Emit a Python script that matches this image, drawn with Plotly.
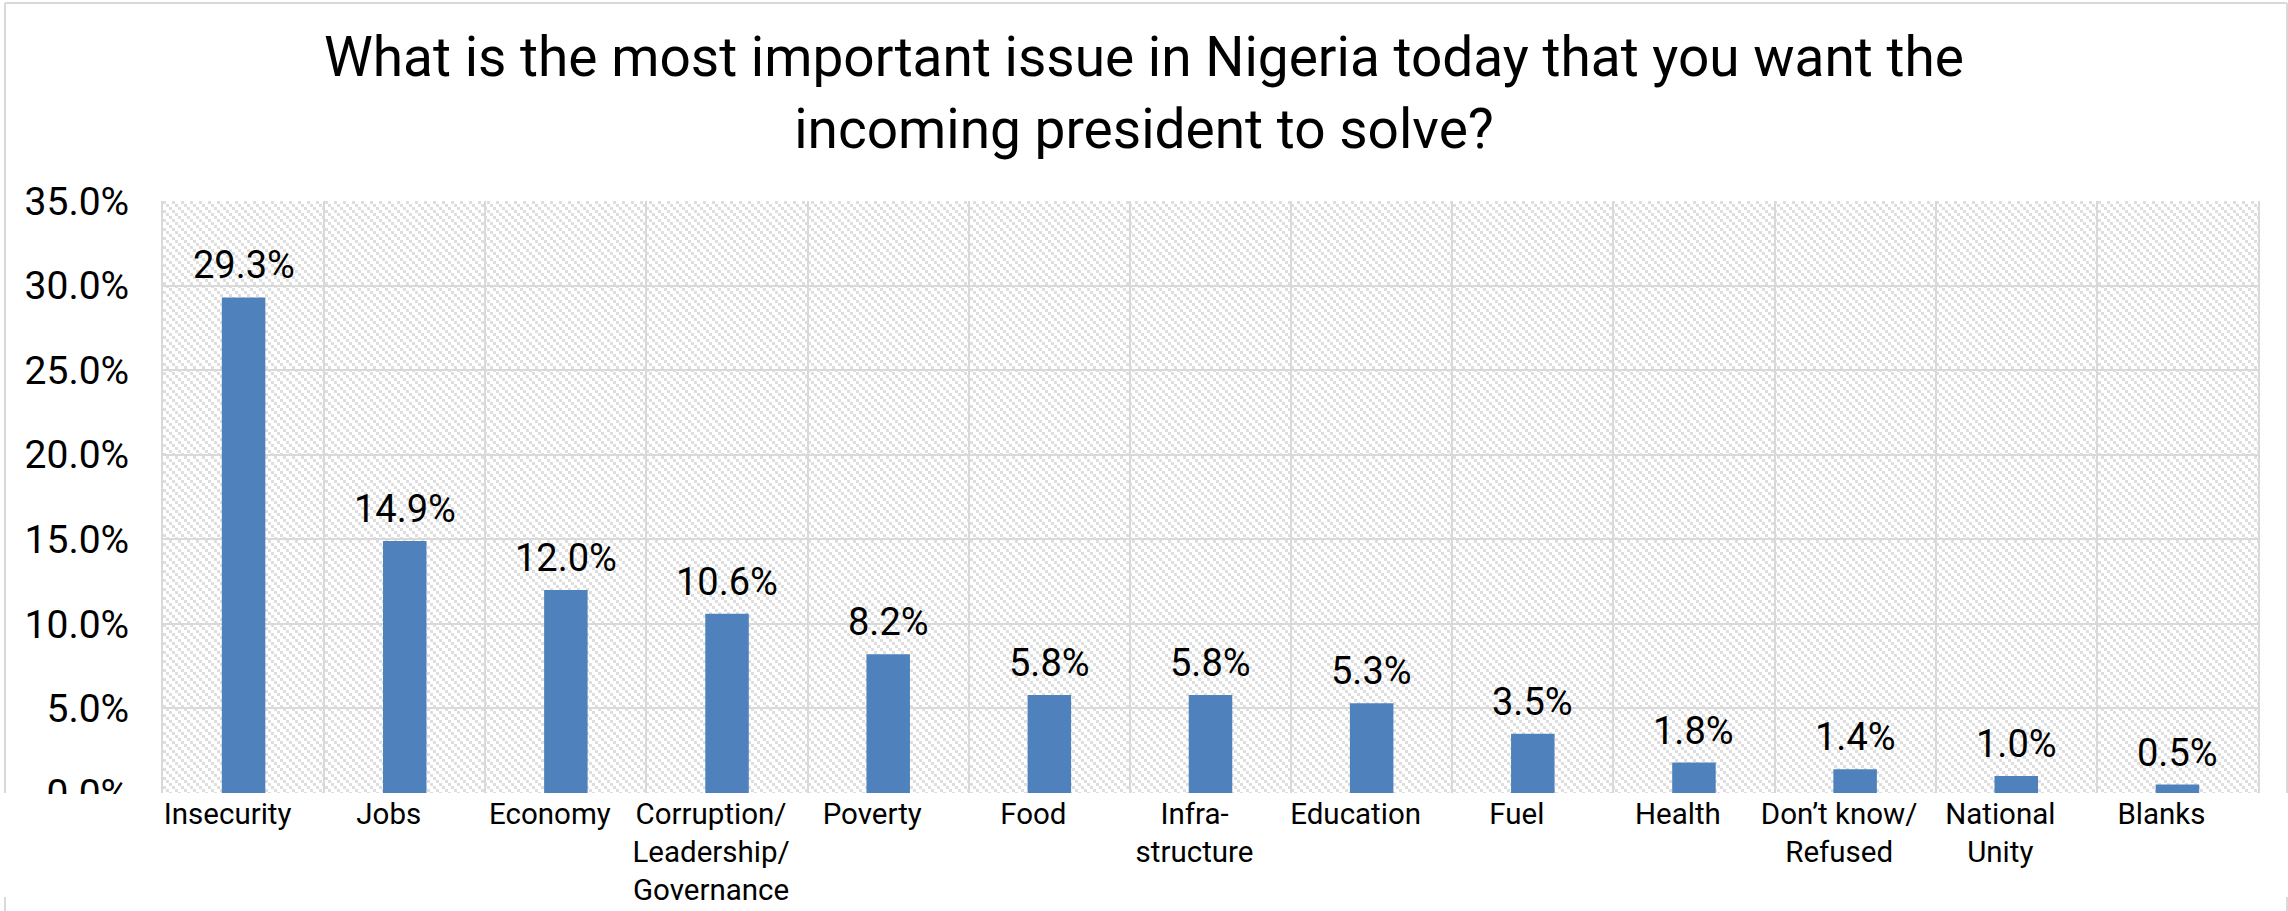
import base64
import plotly.graph_objects as go

# Survey responses: most important issue for the incoming president
categories = [
    "Insecurity", "Jobs", "Economy", "Corruption/<br>Leadership/<br>Governance",
    "Poverty", "Food", "Infra-<br>structure", "Education", "Fuel", "Health",
    "Don’t know/<br>Refused", "National<br>Unity", "Blanks",
]
shares = [29.3, 14.9, 12.0, 10.6, 8.2, 5.8, 5.8, 5.3, 3.5, 1.8, 1.4, 1.0, 0.5]
y_ticks = [0, 5, 10, 15, 20, 25, 30, 35]

TITLE = ("What is the most important issue in Nigeria today that you want the<br>"
         "incoming president to solve?")

FIG_W, FIG_H = 2288, 911
M_L, M_R, M_T, M_B = 163, 30, 201, 118
PLOT_W = FIG_W - M_L - M_R
PLOT_H = FIG_H - M_T - M_B
GRID = "#d9d9d9"
FONT = "Roboto"


def px_x(v):
    return (v - M_L) / PLOT_W


def px_y(v):
    return (FIG_H - M_B - v) / PLOT_H


# Dotted downward-diagonal hatch used as the plot-area fill
hatch_svg = (
    f'<svg xmlns="http://www.w3.org/2000/svg" width="{PLOT_W}" height="{PLOT_H}" '
    f'shape-rendering="crispEdges" preserveAspectRatio="none">'
    '<defs><pattern id="h" width="9" height="9" patternUnits="userSpaceOnUse">'
    '<rect x="0" y="0" width="3" height="3" fill="#dedede"/>'
    '<rect x="3" y="3" width="3" height="3" fill="#dedede"/>'
    '<rect x="6" y="6" width="3" height="3" fill="#dedede"/>'
    '</pattern></defs>'
    f'<rect width="{PLOT_W}" height="{PLOT_H}" fill="url(#h)"/></svg>'
)
hatch_uri = "data:image/svg+xml;base64," + base64.b64encode(hatch_svg.encode()).decode()

fig = go.Figure(
    go.Bar(
        x=categories,
        y=shares,
        width=0.27,
        marker=dict(color="#4f81bd", line=dict(width=0)),
        cliponaxis=False,
    )
)

# Value labels sitting just above each bar
value_labels = [
    dict(x=cat, y=val, xref="x", yref="y", text=f"{val:.1f}%",
         showarrow=False, xanchor="center", yanchor="bottom", yshift=8,
         font=dict(family=FONT, size=38, color="#000000"))
    for cat, val in zip(categories, shares)
]

# Outer chart frame (interrupted where the category-label strip sits)
frame = dict(type="line", xref="paper", yref="paper", layer="below",
             line=dict(color=GRID, width=2))
shapes = [
    dict(frame, x0=px_x(5), x1=px_x(2287), y0=px_y(3), y1=px_y(3)),
    dict(frame, x0=px_x(5), x1=px_x(5), y0=px_y(3), y1=px_y(793)),
    dict(frame, x0=px_x(5), x1=px_x(5), y0=px_y(897), y1=px_y(911)),
    dict(frame, x0=px_x(2287), x1=px_x(2287), y0=px_y(3), y1=px_y(793)),
    dict(frame, x0=px_x(2287), x1=px_x(2287), y0=px_y(897), y1=px_y(911)),
    # strip below the plot area that trims the lowest axis label
    dict(type="rect", xref="paper", yref="paper", layer="above",
         x0=px_x(0), x1=px_x(160), y0=px_y(794), y1=px_y(897),
         fillcolor="#ffffff", line=dict(width=0)),
]

fig.update_layout(
    width=FIG_W,
    height=FIG_H,
    margin=dict(l=M_L, r=M_R, t=M_T, b=M_B, pad=0),
    paper_bgcolor="#ffffff",
    plot_bgcolor="#ffffff",
    showlegend=False,
    title=dict(
        text=TITLE,
        x=0.5, xref="container", xanchor="center",
        y=1 - 76 / FIG_H, yref="container", yanchor="middle",
        font=dict(family=FONT, size=55, color="#000000"),
    ),
    xaxis=dict(
        type="category",
        range=[-0.5, len(categories) - 0.5],
        tickson="boundaries",
        showgrid=True, gridcolor=GRID, gridwidth=2,
        showline=False, zeroline=False, ticks="",
        tickangle=0, automargin=False,
        ticklabelstandoff=0,
        ticklabelshift=-16,
        tickfont=dict(family=FONT, size=29.5, color="#000000"),
    ),
    yaxis=dict(
        range=[0, 35],
        tickvals=y_ticks,
        ticktext=[f"{v:.1f}%" for v in y_ticks],
        showgrid=True, gridcolor=GRID, gridwidth=2,
        showline=True, mirror=True, linecolor=GRID, linewidth=2,
        zeroline=False, ticks="", automargin=False,
        ticklabelstandoff=24,
        tickfont=dict(family=FONT, size=39, color="#000000"),
    ),
    images=[dict(
        source=hatch_uri, xref="paper", yref="paper",
        x=0, y=1, sizex=1, sizey=1, xanchor="left", yanchor="top",
        sizing="stretch", layer="below",
    )],
    annotations=value_labels,
    shapes=shapes,
    bargap=0.73,
)

fig.write_html("out.html")
